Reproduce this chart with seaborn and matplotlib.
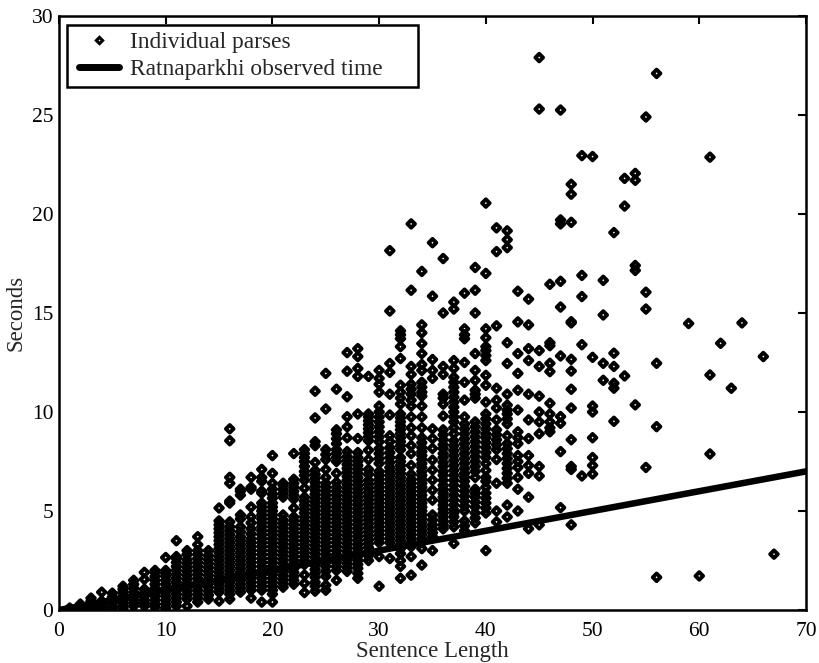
import matplotlib
matplotlib.use("Agg")
import matplotlib.pyplot as plt
from matplotlib.legend_handler import HandlerLine2D
from matplotlib.lines import Line2D
import seaborn as sns
import pandas as pd

# seconds per parse, one list per sentence length
len_01 = [0.05, 0.1]
len_02 = [0.05, 0.1, 0.2, 0.3]
len_03 = [0.02, 0.1, 0.2, 0.3, 0.45, 0.6]
len_04 = [0.05, 0.15, 0.3, 0.45, 0.9]
len_05 = [0.1, 0.2, 0.35, 0.5, 0.65, 0.85]
len_06 = [0.1, 0.2, 0.35, 0.5, 0.7, 0.9, 1.05, 1.2]
len_07 = [0.2, 0.35, 0.5, 0.7, 0.9, 1.1, 1.3, 1.5]
len_08 = [0.2, 0.35, 0.5, 0.7, 0.85, 1.05, 1.55, 1.9]
len_09 = [0.15, 0.3, 0.5, 0.7, 0.9, 1.1, 1.3, 1.5, 1.7, 1.9, 2.0]
len_10 = [0.1, 0.3, 0.5, 0.7, 0.9, 1.1, 1.3, 1.5, 1.7, 1.85, 2.0, 2.65]
len_11 = [0.2, 0.4, 0.6, 0.8, 1.0, 1.2, 1.4, 1.6, 1.8, 2.0, 2.2, 2.4, 2.6, 2.7, 3.5]
len_12 = [0.2, 0.55, 0.75, 0.95, 1.15, 1.35, 1.55, 1.75, 1.95, 2.15, 2.35, 2.55, 2.8, 3.0]
len_13 = [0.4, 0.6, 0.8, 1.0, 1.2, 1.4, 1.6, 1.8, 2.0, 2.2, 2.4, 2.6, 2.8, 3.0, 3.3, 3.7]
len_14 = [0.55, 0.75, 0.95, 1.15, 1.35, 1.55, 1.75, 1.95, 2.15, 2.35, 2.55, 2.75, 3.0]
len_15 = [0.45, 0.9, 1.1, 1.3, 1.5, 1.7, 1.9, 2.1, 2.3, 2.5, 2.7, 2.9, 3.1, 3.3, 3.5, 3.7, 3.9, 4.1, 4.3, 4.5, 5.15]
len_16 = [0.55, 0.8, 1.0, 1.2, 1.4, 1.6, 1.8, 2.0, 2.2, 2.4, 2.6, 2.8, 3.0, 3.2, 3.4, 3.6, 3.8, 4.0, 4.2, 4.45, 5.4, 5.5, 6.4, 6.7, 8.55, 9.15]
len_17 = [0.9, 1.1, 1.3, 1.5, 1.7, 1.9, 2.1, 2.3, 2.5, 2.7, 2.9, 3.1, 3.3, 3.5, 3.7, 3.95, 4.2, 4.6, 4.8, 5.8, 6.0, 6.1]
len_18 = [0.6, 1.0, 1.2, 1.4, 1.6, 1.8, 2.0, 2.2, 2.4, 2.6, 2.8, 3.0, 3.2, 3.4, 3.6, 3.85, 4.1, 4.4, 4.7, 5.2, 6.1, 6.2, 6.7]
len_19 = [0.4, 1.0, 1.2, 1.4, 1.6, 1.8, 2.0, 2.2, 2.4, 2.6, 2.8, 3.0, 3.2, 3.4, 3.6, 3.8, 4.0, 4.2, 4.4, 4.6, 4.8, 5.0, 5.2, 5.4, 5.9, 6.0, 6.5, 6.7, 7.1]
len_20 = [0.4, 0.8, 1.0, 1.2, 1.4, 1.6, 1.8, 2.0, 2.2, 2.4, 2.6, 2.8, 3.0, 3.2, 3.4, 3.6, 3.8, 4.0, 4.2, 4.4, 4.6, 4.8, 5.0, 5.2, 5.4, 5.65, 5.85, 6.1, 6.4, 6.9, 7.8]
len_21 = [1.15, 1.35, 1.55, 1.75, 1.95, 2.15, 2.35, 2.55, 2.75, 2.95, 3.15, 3.35, 3.55, 3.75, 3.95, 4.15, 4.35, 4.55, 4.8, 5.7, 5.9, 6.1, 6.3, 6.4]
len_22 = [1.3, 1.5, 1.7, 1.9, 2.1, 2.3, 2.5, 2.7, 2.9, 3.1, 3.3, 3.5, 3.7, 3.9, 4.1, 4.3, 4.5, 4.7, 5.15, 5.6, 5.8, 6.0, 6.2, 6.4, 6.6, 7.9]
len_23 = [0.88, 1.35, 1.77, 2.3, 2.5, 2.7, 2.9, 3.1, 3.3, 3.5, 3.7, 3.9, 4.1, 4.3, 4.5, 4.7, 4.9, 5.1, 5.3, 5.5, 5.7, 6.15, 6.55, 6.8, 7.0, 7.25, 7.5, 7.7, 7.9, 8.1]
len_24 = [0.95, 1.2, 1.4, 1.65, 1.85, 2.05, 2.25, 2.45, 2.65, 2.85, 3.05, 3.25, 3.45, 3.65, 3.85, 4.05, 4.25, 4.45, 4.65, 4.85, 5.05, 5.25, 5.45, 5.65, 5.85, 6.05, 6.25, 6.45, 6.65, 6.85, 7.05, 7.45, 8.3, 8.5, 9.7, 11.05]
len_25 = [1.0, 1.25, 1.7, 1.95, 2.2, 2.4, 2.6, 2.8, 3.0, 3.2, 3.4, 3.6, 3.8, 4.0, 4.2, 4.4, 4.6, 4.8, 5.0, 5.2, 5.4, 5.6, 5.8, 6.0, 6.2, 6.4, 6.7, 7.1, 7.6, 7.85, 8.1, 10.15, 11.95]
len_26 = [1.5, 2.0, 2.2, 2.4, 2.6, 2.8, 3.0, 3.2, 3.4, 3.6, 3.8, 4.0, 4.2, 4.4, 4.6, 4.8, 5.0, 5.2, 5.4, 5.6, 5.8, 6.0, 6.2, 6.45, 6.9, 7.5, 7.7, 7.9, 8.1, 8.4, 8.65, 8.9, 9.1, 11.15]
len_27 = [1.95, 2.15, 2.35, 2.55, 2.75, 2.95, 3.15, 3.35, 3.55, 3.75, 3.95, 4.15, 4.35, 4.55, 4.75, 4.95, 5.15, 5.35, 5.55, 5.75, 5.95, 6.15, 6.35, 6.55, 6.75, 6.95, 7.15, 7.35, 7.55, 7.75, 8.0, 8.7, 9.25, 9.76, 10.77, 12.06, 13.0]
len_28 = [1.6, 1.85, 2.1, 2.3, 2.5, 2.7, 2.9, 3.1, 3.3, 3.5, 3.7, 3.9, 4.1, 4.3, 4.5, 4.7, 4.9, 5.1, 5.3, 5.5, 5.7, 5.9, 6.1, 6.3, 6.5, 6.7, 6.9, 7.1, 7.3, 7.5, 7.7, 7.95, 8.66, 9.9, 11.8, 12.2, 12.8, 13.2]
len_29 = [2.5, 2.75, 2.95, 3.15, 3.35, 3.55, 3.75, 3.95, 4.15, 4.35, 4.55, 4.75, 4.95, 5.15, 5.35, 5.55, 5.75, 5.95, 6.15, 6.35, 6.55, 6.85, 7.1, 7.6, 8.07, 8.55, 8.75, 8.95, 9.15, 9.35, 9.55, 9.75, 9.9, 11.8]
len_30 = [1.2, 2.7, 3.4, 3.6, 3.8, 4.0, 4.2, 4.4, 4.6, 4.8, 5.0, 5.2, 5.4, 5.6, 5.8, 6.0, 6.2, 6.4, 6.6, 6.8, 7.0, 7.4, 7.65, 7.9, 8.15, 8.5, 8.75, 9.0, 9.25, 9.5, 9.75, 10.0, 10.3, 11.0, 11.4, 11.7, 12.1]
len_31 = [2.6, 3.4, 3.6, 3.8, 4.0, 4.2, 4.4, 4.6, 4.8, 5.0, 5.2, 5.4, 5.6, 5.8, 6.0, 6.2, 6.4, 6.6, 6.8, 7.0, 7.2, 7.45, 7.7, 7.95, 8.2, 8.5, 8.8, 9.85, 10.9, 12.0, 12.45, 15.1, 18.15]
len_32 = [1.6, 2.2, 2.5, 2.85, 3.1, 3.3, 3.5, 3.7, 3.9, 4.1, 4.3, 4.5, 4.7, 4.9, 5.1, 5.3, 5.5, 5.7, 5.9, 6.1, 6.3, 6.5, 6.7, 6.9, 7.1, 7.3, 7.5, 7.7, 8.1, 8.3, 8.5, 8.7, 8.9, 9.1, 9.3, 9.5, 9.7, 9.9, 10.4, 10.7, 11.0, 11.35, 12.7, 13.3, 13.7, 13.9, 14.1]
len_33 = [1.76, 2.7, 3.2, 3.4, 3.6, 3.8, 4.0, 4.2, 4.4, 4.6, 4.8, 5.0, 5.2, 5.4, 5.6, 5.8, 6.0, 6.2, 6.4, 6.6, 6.85, 7.3, 7.9, 8.3, 8.8, 9.2, 9.75, 10.3, 10.6, 10.9, 11.15, 11.4, 11.9, 12.3, 16.15, 19.5]
len_34 = [2.27, 3.1, 3.4, 3.6, 3.8, 4.0, 4.2, 4.4, 4.6, 4.8, 5.0, 5.2, 5.4, 5.6, 5.8, 6.0, 6.2, 6.4, 6.6, 6.8, 7.0, 7.2, 7.4, 7.6, 7.8, 8.0, 8.2, 8.45, 8.7, 9.2, 9.75, 10.3, 10.8, 11.0, 11.25, 11.5, 12.1, 12.4, 12.95, 13.46, 14.0, 14.4, 17.1]
len_35 = [3.0, 3.7, 3.9, 4.1, 4.3, 4.55, 4.8, 5.55, 6.05, 6.56, 7.07, 7.57, 8.16, 8.66, 9.15, 11.7, 12.1, 12.65, 15.85, 18.55]
len_36 = [4.1, 4.3, 4.5, 4.7, 4.9, 5.1, 5.3, 5.5, 5.7, 5.9, 6.1, 6.3, 6.55, 6.8, 7.0, 7.25, 7.45, 7.7, 7.9, 8.15, 8.35, 8.6, 8.85, 9.1, 9.8, 10.4, 10.7, 10.9, 11.9, 12.3, 15.0, 17.75]
len_37 = [3.36, 4.2, 4.45, 4.7, 4.9, 5.05, 5.3, 5.55, 5.8, 6.05, 6.3, 6.55, 6.8, 7.05, 7.3, 7.55, 7.8, 8.05, 8.3, 8.55, 8.9, 9.2, 9.5, 9.75, 10.0, 10.25, 10.5, 10.75, 11.0, 11.25, 11.5, 11.75, 12.2, 12.6, 15.2, 15.55]
len_38 = [4.0, 4.25, 4.5, 5.0, 5.25, 5.5, 5.75, 6.0, 6.25, 6.5, 6.7, 6.9, 7.15, 7.4, 7.65, 7.9, 8.15, 8.4, 8.65, 8.9, 9.15, 9.4, 9.75, 10.6, 11.5, 12.5, 13.7, 13.9, 14.2, 16.0]
len_39 = [4.4, 4.65, 4.9, 5.2, 5.45, 5.7, 5.9, 6.1, 6.7, 7.0, 7.25, 7.5, 7.75, 8.0, 8.25, 8.5, 8.75, 9.0, 9.25, 9.5, 10.7, 10.9, 11.1, 11.6, 12.1, 12.95, 15.0, 16.15, 17.3]
len_40 = [3.0, 4.9, 5.15, 5.4, 5.65, 5.9, 6.2, 6.5, 6.7, 7.05, 7.4, 7.7, 7.95, 8.2, 8.45, 8.7, 8.9, 9.15, 9.4, 9.65, 9.9, 10.5, 11.35, 11.85, 12.6, 12.85, 13.1, 13.3, 13.75, 14.2, 17.0, 20.55]
len_41 = [4.45, 5.0, 6.4, 7.6, 8.1, 8.35, 8.6, 8.85, 9.1, 9.6, 10.2, 10.6, 11.2, 14.35, 18.1, 19.3]
len_42 = [4.7, 5.3, 6.4, 6.65, 6.9, 7.15, 7.4, 7.65, 7.9, 8.15, 8.4, 8.8, 9.4, 9.65, 9.9, 10.1, 10.35, 10.9, 12.45, 13.5, 18.3, 18.7, 19.15]
len_43 = [5.0, 6.1, 6.7, 7.2, 7.5, 7.8, 8.4, 8.7, 9.0, 10.1, 11.1, 11.95, 12.95, 14.55, 16.1]
len_44 = [4.1, 5.7, 6.9, 7.3, 7.8, 8.66, 9.6, 10.9, 12.6, 13.2, 14.4, 15.7]
len_45 = [4.3, 6.77, 7.25, 8.9, 9.5, 10.0, 10.8, 12.3, 13.1, 25.3, 27.9]
len_46 = [9.0, 9.2, 9.5, 9.9, 10.44, 12.04, 12.46, 13.35, 13.5, 16.45]
len_47 = [5.17, 8.0, 9.43, 9.77, 12.83, 15.3, 16.6, 19.5, 19.7, 25.25]
len_48 = [4.3, 7.1, 7.25, 8.6, 10.2, 11.15, 12.07, 12.66, 14.5, 14.56, 19.58, 21.0, 21.5]
len_49 = [6.77, 13.4, 15.83, 16.9, 22.95]
len_50 = [6.87, 7.3, 7.7, 8.7, 10.0, 10.3, 12.76, 22.9]
len_51 = [11.6, 12.46, 14.9, 16.65]
len_52 = [9.53, 11.2, 11.45, 12.3, 12.97, 19.06]
len_53 = [11.82, 20.4, 21.8]
len_54 = [10.36, 17.15, 17.4, 21.7, 22.05]
len_55 = [7.2, 15.2, 16.05, 24.9]
len_56 = [1.65, 9.26, 12.46, 27.1]
len_59 = [14.47]
len_60 = [1.72]
len_61 = [7.88, 11.87, 22.87]
len_62 = [13.47]
len_63 = [11.2]
len_64 = [14.5]
len_66 = [12.8]
len_67 = [2.82]

lengths = list(range(1, 57)) + [59, 60, 61, 62, 63, 64, 66, 67]
seconds = [len_01, len_02, len_03, len_04, len_05, len_06, len_07, len_08, len_09, len_10,
           len_11, len_12, len_13, len_14, len_15, len_16, len_17, len_18, len_19, len_20,
           len_21, len_22, len_23, len_24, len_25, len_26, len_27, len_28, len_29, len_30,
           len_31, len_32, len_33, len_34, len_35, len_36, len_37, len_38, len_39, len_40,
           len_41, len_42, len_43, len_44, len_45, len_46, len_47, len_48, len_49, len_50,
           len_51, len_52, len_53, len_54, len_55, len_56, len_59, len_60, len_61, len_62,
           len_63, len_64, len_66, len_67]

# Ratnaparkhi line
line_x = [0, 70]
line_y = [0.0, 7.0]

x_ticks = [0, 10, 20, 30, 40, 50, 60, 70]
y_ticks = [0, 5, 10, 15, 20, 25, 30]

rows = []
for n, vals in zip(lengths, seconds):
    for v in vals:
        rows.append({"length": n, "seconds": v})
df = pd.DataFrame(rows)

sns.set_style("white")
plt.rcParams["font.family"] = ["Liberation Serif"]

fig = plt.figure(figsize=(8.19, 6.63), dpi=100)
ax = fig.add_axes([59 / 819, 1 - 610 / 663, 747 / 819, 594 / 663])

sns.scatterplot(data=df, x="length", y="seconds", marker="D", s=15, facecolor="none",
                edgecolor="black", linewidth=2.8, ax=ax, legend=False)
sns.lineplot(x=line_x, y=line_y, color="black", linewidth=4.7, ax=ax, legend=False)

ax.set_xlim(0, 70)
ax.set_ylim(0, 30)
ax.set_xticks(x_ticks)
ax.set_yticks(y_ticks)
ax.tick_params(direction="in", length=5.5, width=1.5, top=True, right=True,
               labelsize=15.5, colors="black")
ax.tick_params(axis="x", pad=9)
ax.tick_params(axis="y", pad=4)
for s in ax.spines.values():
    s.set_visible(True)
    s.set_linewidth(1.8)
    s.set_color("black")
ax.set_xlabel("Sentence Length", fontsize=16.5)
ax.set_ylabel("Seconds", fontsize=16.5)
ax.xaxis.set_label_coords(0.5, -0.053)
ax.yaxis.set_label_coords(-0.044, 0.5)

marker_handle = Line2D([], [], linestyle="none", marker="D", markersize=3.2, markerfacecolor="none",
                       markeredgecolor="black", markeredgewidth=2.2, label="Individual parses")
line_handle = Line2D([], [], color="black", linewidth=5, label="Ratnaparkhi observed time")
leg = ax.legend(handles=[marker_handle, line_handle], loc="upper left",
                bbox_to_anchor=(8 / 747, 1 - 9 / 594, 351 / 747, 0.0), mode="expand",
                borderaxespad=0, fontsize=16.8, fancybox=False, framealpha=1,
                edgecolor="black", handlelength=2.15, handletextpad=0.26,
                labelspacing=0.23, borderpad=0.3,
                handler_map={line_handle: HandlerLine2D(numpoints=2, marker_pad=0.21)})
leg.get_frame().set_linewidth(1.8)
leg.set_zorder(5)

plt.savefig("out.png", dpi=100)
